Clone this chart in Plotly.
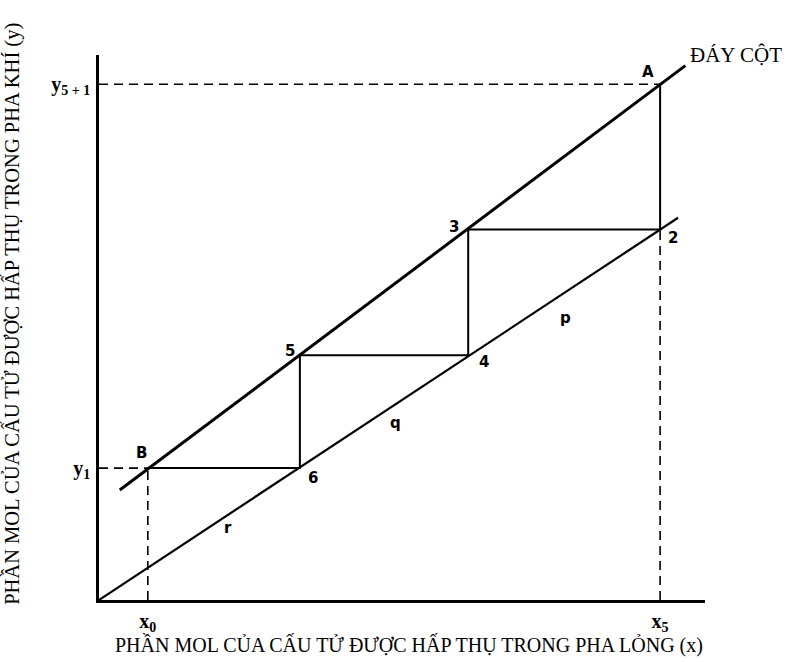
import plotly.graph_objects as go

# Equilibrium line (lower) and operating line (upper), in mole-fraction units
eq_x = [0.0, 10.32]
eq_y = [0.0, 6.81]
op_x = [0.37, 10.45]
op_y = [1.96, 9.52]

# Stage construction: A -> 2 -> 3 -> 4 -> 5 -> 6 -> B
stage_names = ["A", "2", "3", "4", "5", "6", "B"]
stage_x = [10.0, 10.0, 6.58, 6.58, 3.58, 3.58, 0.87]
stage_y = [9.19, 6.6, 6.6, 4.36, 4.36, 2.35, 2.35]

# Axis reference values
x_ticks = [0.87, 10.0]
x_tick_text = ["x<sub>0</sub>", "x<sub>5</sub>"]
y_ticks = [2.35, 9.19]
y_tick_text = ["y<sub>1</sub>", "y<sub>5 + 1</sub>"]

SERIF = "Liberation Serif"
LBL = dict(family="DejaVu Sans", size=15, color="black", weight="bold")

fig = go.Figure()

# Dashed projections onto the axes
xA, yA = stage_x[0], stage_y[0]
x2, y2 = stage_x[1], stage_y[1]
xB, yB = stage_x[-1], stage_y[-1]
dash_style = dict(color="black", width=1.6, dash="9px,6px")
for xs, ys in [([0, xA], [yA, yA]), ([0, xB], [yB, yB]),
               ([xB, xB], [0, yB]), ([x2, x2], [0, y2])]:
    fig.add_trace(go.Scatter(x=xs, y=ys, mode="lines", line=dash_style,
                             hoverinfo="skip", showlegend=False))

fig.add_trace(go.Scatter(x=eq_x, y=eq_y, mode="lines",
                         line=dict(color="black", width=2.2),
                         showlegend=False))
fig.add_trace(go.Scatter(x=op_x, y=op_y, mode="lines",
                         line=dict(color="black", width=3),
                         showlegend=False))
fig.add_trace(go.Scatter(x=stage_x, y=stage_y, mode="lines",
                         line=dict(color="black", width=2),
                         showlegend=False))

# Stage point labels
offsets = {"A": (-12, 12), "2": (13, -8), "3": (-14, 3), "4": (16, -7),
           "5": (-10, 4), "6": (13, -10), "B": (-6, 15)}
for name, sx, sy in zip(stage_names, stage_x, stage_y):
    dx, dy = offsets[name]
    fig.add_annotation(x=sx, y=sy, text=name, showarrow=False,
                       xshift=dx, yshift=dy, font=LBL)

# Line segment labels
for t, lx, ly in [("p", 8.31, 5.03), ("q", 5.28, 3.15), ("r", 2.30, 1.28)]:
    fig.add_annotation(x=lx, y=ly, text=t, showarrow=False, font=LBL)

fig.add_annotation(x=op_x[1], y=op_y[1], text="ĐÁY CỘT", showarrow=False,
                   xanchor="left", yanchor="middle", xshift=3, yshift=11,
                   font=dict(family=SERIF, size=21, color="black"))

# Axis titles
fig.add_annotation(xref="paper", yref="paper", x=0.5116, y=-0.0826,
                   text="PHẦN MOL CỦA CẤU TỬ ĐƯỢC HẤP THỤ TRONG PHA LỎNG (x)",
                   showarrow=False, xanchor="center", yanchor="middle",
                   font=dict(family=SERIF, size=20, color="black"))
fig.add_annotation(xref="paper", yref="paper", x=-0.1436, y=0.525,
                   text="PHẦN MOL CỦA CẤU TỬ ĐƯỢC HẤP THỤ TRONG PHA KHÍ (y)",
                   showarrow=False, textangle=-90, xanchor="center",
                   yanchor="middle",
                   font=dict(family=SERIF, size=20.5, color="black"))

fig.update_layout(
    width=797, height=662, autosize=False,
    margin=dict(l=99, r=92, t=55, b=62),
    plot_bgcolor="white", paper_bgcolor="white",
    xaxis=dict(range=[0, 10.8], showgrid=False, zeroline=False,
               showline=True, linecolor="black", linewidth=2.5,
               tickvals=x_ticks, ticktext=x_tick_text, ticks="",
               ticklabelstandoff=1,
               tickfont=dict(family=SERIF, size=20, color="black",
                             weight="bold")),
    yaxis=dict(range=[0, 9.71], showgrid=False, zeroline=False,
               showline=True, linecolor="black", linewidth=2.5,
               tickvals=y_ticks, ticktext=y_tick_text, ticks="",
               ticklabelstandoff=2,
               tickfont=dict(family=SERIF, size=20, color="black",
                             weight="bold")),
)

fig.write_html("out.html")
